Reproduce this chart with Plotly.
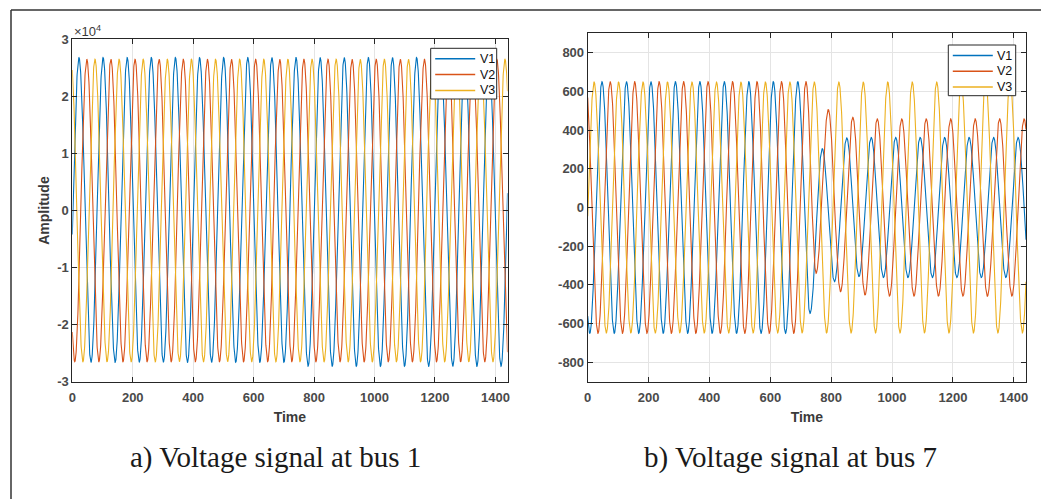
import numpy as np
import plotly.graph_objects as go

# ---------------- data ----------------
phase_names = ["V1", "V2", "V3"]
phase_colors = ["#0072BD", "#D95319", "#EDB120"]

time_end = 1440

# bus 1 (steady three-phase signal)
bus1_period = 79.8
bus1_first_peak_time = [22, 48, 75]
bus1_peak_amplitude = [26800, 26500, 26500]
bus1_trough_amplitude_early = [26600, 26500, 26500]
bus1_trough_amplitude_late = [27300, 26500, 26500]
bus1_late_start_time = 780

# bus 7 (fault near t = 720 on V1 and V2)
bus7_period = 80.4
bus7_first_peak_time = [47, -6.5, 21]
bus7_pre_fault_amplitude = [650, 650, 648]
bus7_post_fault_amplitude = [362, 458, 648]
bus7_transient_start_time = [712, 738, 99999]
bus7_post_fault_time_shift = [0, -7, 0]
bus7_V1_transient_extrema = [-547, 304, -383, 360, -357]
bus7_V2_transient_extrema = [-340, 506, -435, 466, -452]
bus7_V3_transient_extrema = []

x_ticks = [0, 200, 400, 600, 800, 1000, 1200, 1400]
bus1_y_ticks = [-30000, -20000, -10000, 0, 10000, 20000, 30000]
bus1_y_labels = ["-3", "-2", "-1", "0", "1", "2", "3"]
bus7_y_ticks = [-800, -600, -400, -200, 0, 200, 400, 600, 800]
bus7_y_labels = ["-800", "-600", "-400", "-200", "0", "200", "400", "600", "800"]

captions = ["a) Voltage signal at bus 1", "b) Voltage signal at bus 7"]

# ---------------- waveform construction ----------------
t = np.arange(0, time_end + 0.5, 0.5)


def waveform(ext_times, ext_values):
    """Smooth half-cosine segments joining successive extrema (time, value)."""
    ext_times = np.asarray(ext_times, float)
    ext_values = np.asarray(ext_values, float)
    idx = np.clip(np.searchsorted(ext_times, t, side="right") - 1, 0, len(ext_times) - 2)
    ta, tb = ext_times[idx], ext_times[idx + 1]
    va, vb = ext_values[idx], ext_values[idx + 1]
    s = np.clip((t - ta) / (tb - ta), 0, 1)
    return va + (vb - va) * (1 - np.cos(np.pi * s)) / 2


def bus1_signal(i):
    half = bus1_period / 2
    t0 = bus1_first_peak_time[i]
    ks = np.arange(-2, int(time_end / half) + 4)
    times, vals = [], []
    for kk in ks:
        tk = t0 + kk * half
        times.append(tk)
        if kk % 2 == 0:
            vals.append(bus1_peak_amplitude[i])
        elif tk >= bus1_late_start_time:
            vals.append(-bus1_trough_amplitude_late[i])
        else:
            vals.append(-bus1_trough_amplitude_early[i])
    return waveform(times, vals)


bus7_transients = [bus7_V1_transient_extrema, bus7_V2_transient_extrema, bus7_V3_transient_extrema]


def bus7_signal(i):
    half = bus7_period / 2
    t0 = bus7_first_peak_time[i]
    k_start = int(np.ceil((bus7_transient_start_time[i] - t0) / half))
    trans = bus7_transients[i]
    ks = np.arange(-2, int(time_end / half) + 4)
    times, vals = [], []
    for kk in ks:
        sign = 1 if kk % 2 == 0 else -1
        tk = t0 + kk * half
        if kk < k_start:
            times.append(tk)
            vals.append(sign * bus7_pre_fault_amplitude[i])
            continue
        times.append(tk + bus7_post_fault_time_shift[i])
        j = kk - k_start
        vals.append(trans[j] if j < len(trans) else sign * bus7_post_fault_amplitude[i])
    return waveform(times, vals)


# ---------------- figure ----------------
W, H = 1041, 499
fig = go.Figure()

for i in range(3):
    fig.add_trace(go.Scatter(x=t, y=bus1_signal(i), mode="lines", name=phase_names[i],
                             line=dict(color=phase_colors[i], width=1.1),
                             xaxis="x", yaxis="y", showlegend=False))
for i in range(3):
    fig.add_trace(go.Scatter(x=t, y=bus7_signal(i), mode="lines", name=phase_names[i],
                             line=dict(color=phase_colors[i], width=1.1),
                             xaxis="x2", yaxis="y2", showlegend=False))


def px_x(p):
    return p / W


def px_y(p):
    return 1 - p / H


axis_common = dict(showline=True, linecolor="#262626", linewidth=1, mirror="allticks",
                   ticks="inside", ticklen=5, tickcolor="#262626", tickwidth=1,
                   showgrid=True, gridcolor="#e4e4e4", gridwidth=1, zeroline=False,
                   automargin=False,
                   tickfont=dict(family="Liberation Sans", size=13, color="#4a4a4a", weight="bold"))
title_font = dict(family="Liberation Sans", size=14, color="#3a3a3a", weight="bold")

fig.update_layout(
    width=W, height=H,
    margin=dict(l=0, r=0, t=0, b=0, autoexpand=False),
    paper_bgcolor="white", plot_bgcolor="white",
    showlegend=False,
    xaxis=dict(domain=[px_x(72.3), px_x(507.5)], range=[0, time_end], tickvals=x_ticks,
               ticklabelstandoff=4,
               title=dict(text="Time", font=title_font, standoff=7), anchor="y", **axis_common),
    yaxis=dict(domain=[px_y(381.7), px_y(39.3)], range=[-30000, 30000], tickvals=bus1_y_ticks,
               ticktext=bus1_y_labels,
               title=dict(text="Amplitude", font=title_font, standoff=4), anchor="x", **axis_common),
    xaxis2=dict(domain=[px_x(587.7), px_x(1026)], range=[0, time_end], tickvals=x_ticks,
                ticklabelstandoff=4,
                title=dict(text="Time", font=title_font, standoff=7), anchor="y2", **axis_common),
    yaxis2=dict(domain=[px_y(381.7), px_y(33.3)], range=[-900, 900], tickvals=bus7_y_ticks,
                ticktext=bus7_y_labels, anchor="x2", **axis_common),
)

# legends drawn as boxes with sample lines and labels
legend_boxes = [(430.7, 496.7, 48.3, 99.0), (948.3, 1015.7, 45.0, 95.7)]
for (bx0, bx1, by0, by1) in legend_boxes:
    fig.add_shape(type="rect", xref="paper", yref="paper",
                  x0=px_x(bx0), x1=px_x(bx1), y0=px_y(by1), y1=px_y(by0),
                  line=dict(color="#262626", width=1), fillcolor="white", layer="above")
    for j in range(3):
        yy = by0 + 10.5 + 15.8 * j
        fig.add_shape(type="line", xref="paper", yref="paper",
                      x0=px_x(bx0 + 4.5), x1=px_x(bx0 + 44.5), y0=px_y(yy), y1=px_y(yy),
                      line=dict(color=phase_colors[j], width=1.5), layer="above")
        fig.add_annotation(x=px_x(bx0 + 47), y=px_y(yy), xref="paper", yref="paper",
                           xanchor="left", yanchor="middle", showarrow=False,
                           text=phase_names[j],
                           font=dict(family="Liberation Sans", size=12.5, color="#111111"))

# exponent label of the left y axis
fig.add_annotation(x=px_x(72), y=px_y(31), xref="paper", yref="paper", xanchor="left",
                   yanchor="middle", showarrow=False, text="×10<sup>4</sup>",
                   font=dict(family="Liberation Sans", size=13, color="#3a3a3a"))

# captions
for cx, txt in zip([275, 790], captions):
    fig.add_annotation(x=px_x(cx), y=px_y(457), xref="paper", yref="paper", xanchor="center",
                       yanchor="middle", showarrow=False, text=txt,
                       font=dict(family="Liberation Serif", size=29, color="#1a1a1a"))

# outer frame (top and left edge of the page box)
fig.add_shape(type="line", xref="paper", yref="paper", x0=px_x(11), x1=1, y0=px_y(10), y1=px_y(10),
              line=dict(color="#333333", width=1.5))
fig.add_shape(type="line", xref="paper", yref="paper", x0=px_x(11), x1=px_x(11), y0=0, y1=px_y(10),
              line=dict(color="#333333", width=1.5))

fig.write_html("out.html", config={"displayModeBar": False},
               post_script="document.body.style.margin='0';document.body.style.overflow='hidden';")
